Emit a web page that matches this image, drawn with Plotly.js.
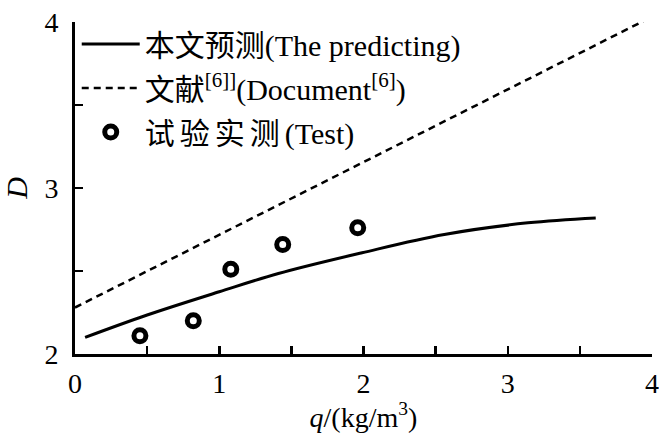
<!DOCTYPE html>
<html>
<head>
<meta charset="utf-8">
<script src="https://cdn.plot.ly/plotly-3.0.1.min.js"></script>
<style>html,body{margin:0;padding:0;background:#fff;}#chart{width:659px;height:433px;}</style>
</head>
<body>
<div id="chart"></div>
<script>
// Data
var qPred = [0.07, 0.5, 1.0, 1.41, 1.99, 2.56, 3.14, 3.61];
var DPred = [2.10, 2.235, 2.375, 2.485, 2.61, 2.72, 2.79, 2.82];
var qDoc = [0.0, 3.95];
var DDoc = [2.28, 4.01];
var qTest = [0.45, 0.82, 1.08, 1.44, 1.96];
var DTest = [2.11, 2.20, 2.51, 2.66, 2.76];
var xTickVals = [0, 0.5, 1, 1.5, 2, 2.5, 3, 3.5, 4];
var xTickText = ['0', '', '1', '', '2', '', '3', '', '4'];
var yTickVals = [2, 2.5, 3, 3.5, 4];
var yTickText = ['2', '', '3', '', '4'];
var names = [
  '本文预测(The predicting)',
  '文献<sup>[6]]</sup>(Document<sup>[6]</sup>)',
  '<span style="letter-spacing:5px">试验实测</span>(Test)'
];

var FONT = 'Liberation Serif, Times New Roman, Tinos, Noto Sans CJK SC, serif';

var traces = [
  {x: qPred, y: DPred, mode: 'lines', name: names[0], legendgroup: 'a',
   line: {color: '#000', width: 3, shape: 'spline'}},
  {x: qDoc, y: DDoc, mode: 'lines', name: names[1], legendgroup: 'b',
   line: {color: '#000', width: 2.5, dash: '7px,5px'}},
  {x: qTest, y: DTest, mode: 'markers', name: names[2], legendgroup: 'c',
   marker: {symbol: 'circle-open', size: 12, color: '#000', line: {width: 5, color: '#000'}}}
];

var layout = {
  width: 659, height: 433,
  margin: {l: 75, r: 7, t: 22, b: 79},
  paper_bgcolor: '#fff', plot_bgcolor: '#fff',
  font: {family: FONT, size: 28, color: '#000'},
  showlegend: true,
  legend: {x: 0.003, y: 1.012, xanchor: 'left', yanchor: 'top',
           bgcolor: 'rgba(0,0,0,0)', font: {family: FONT, size: 30, color: '#000'},
           itemwidth: 58, traceorder: 'grouped', tracegroupgap: 2},
  xaxis: {range: [0, 4], showline: true, linewidth: 3, linecolor: '#000',
          showgrid: false, zeroline: false, ticks: 'inside', ticklen: 8, tickwidth: 2.5,
          tickcolor: '#000', tickmode: 'array', tickvals: xTickVals, ticktext: xTickText,
          tickfont: {family: FONT, size: 28}, ticklabelstandoff: 2, ticklabeloverflow: 'allow',
          title: {text: '<i>q</i>/(kg/m<sup>3</sup>)', font: {family: FONT, size: 28}, standoff: 0}},
  yaxis: {range: [2, 4], showline: true, linewidth: 3, linecolor: '#000',
          showgrid: false, zeroline: false, ticks: 'inside', ticklen: 8, tickwidth: 2.5,
          tickcolor: '#000', tickmode: 'array', tickvals: yTickVals, ticktext: yTickText,
          tickfont: {family: FONT, size: 28}, ticklabelstandoff: 8,
          title: {text: '<i>D</i>', font: {family: FONT, size: 30}, standoff: 14}}
};

Plotly.newPlot('chart', traces, layout, {displayModeBar: false, staticPlot: true});
</script>
</body>
</html>
